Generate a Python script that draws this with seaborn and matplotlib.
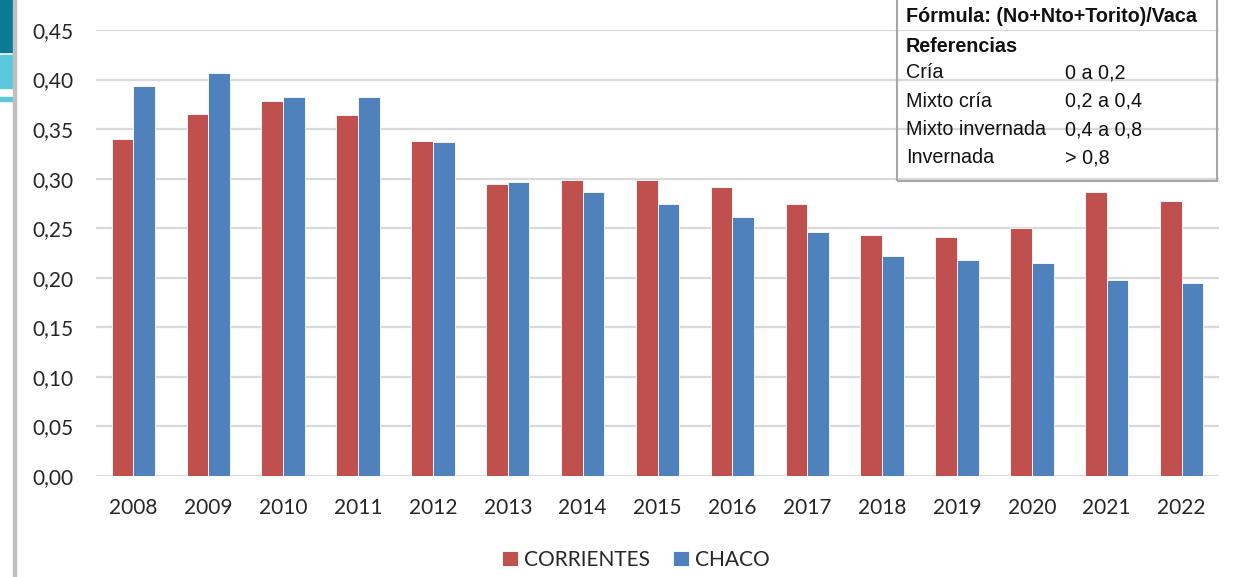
import matplotlib
matplotlib.use("Agg")
import matplotlib.pyplot as plt
from matplotlib.patches import Rectangle
import seaborn as sns
import pandas as pd

# Ratio (No + Nto + Torito) / Vaca per year and province
years = ["2008", "2009", "2010", "2011", "2012", "2013", "2014", "2015",
         "2016", "2017", "2018", "2019", "2020", "2021", "2022"]
corrientes = [0.340, 0.365, 0.378, 0.364, 0.338, 0.295, 0.299, 0.299,
              0.292, 0.274, 0.243, 0.241, 0.250, 0.287, 0.277]
chaco = [0.394, 0.407, 0.382, 0.382, 0.337, 0.297, 0.287, 0.274,
         0.261, 0.246, 0.222, 0.218, 0.215, 0.198, 0.195]
series_names = ["CORRIENTES", "CHACO"]

y_ticks = [0.00, 0.05, 0.10, 0.15, 0.20, 0.25, 0.30, 0.35, 0.40, 0.45]

formula_title = "Fórmula: (No+Nto+Torito)/Vaca"
ref_title = "Referencias"
ref_labels = ["Cría", "Mixto cría", "Mixto invernada", "Invernada"]
ref_ranges = ["0 a 0,2", "0,2 a 0,4", "0,4 a 0,8", "> 0,8"]

df = pd.DataFrame({
    "Año": years * 2,
    "Valor": corrientes + chaco,
    "Provincia": [series_names[0]] * len(years) + [series_names[1]] * len(years),
})

sns.set_theme(style="white")
plt.rcParams["font.family"] = ["Lato", "DejaVu Sans"]

W, H = 1243, 577
fig = plt.figure(figsize=(W / 100, H / 100), dpi=100)
ax = fig.add_axes([96 / W, 1 - 476 / H, (1219 - 96) / W, (476 - 30) / H])

palette = {series_names[0]: "#C0504D", series_names[1]: "#4F81BD"}
sns.barplot(data=df, x="Año", y="Valor", hue="Provincia", palette=palette,
            width=0.58, edgecolor="#ffffff", linewidth=0.6, saturation=1,
            ax=ax, zorder=3)

ax.set_ylim(0, 0.45)
ax.set_xlim(-0.5, len(years) - 0.5)
ax.set_yticks(y_ticks)
ax.set_yticklabels([f"{v:.2f}".replace(".", ",") for v in y_ticks])
ax.yaxis.grid(True, color="#D9D9D9", linewidth=1.6, zorder=0)
ax.set_axisbelow(True)
for s in ax.spines.values():
    s.set_visible(False)
ax.set_xlabel("")
ax.set_ylabel("")
ax.tick_params(axis="y", length=0, pad=16, labelsize=15, labelcolor="#262626")
ax.tick_params(axis="x", length=0, pad=16, labelsize=15, labelcolor="#262626")

ax.legend(loc="center", bbox_to_anchor=(636 / W, 1 - 560 / H),
          bbox_transform=fig.transFigure, ncol=2, frameon=False,
          fontsize=15, handlelength=0.75, handleheight=0.75,
          handletextpad=0.3, columnspacing=1.1, labelcolor="#262626")

# Slide decoration on the left edge
fig.patches.append(Rectangle((0, 1 - 52 / H), 13 / W, 52 / H,
                             transform=fig.transFigure, color="#0B7A94", zorder=0))
fig.patches.append(Rectangle((0, 1 - 88 / H), 13 / W, 33 / H,
                             transform=fig.transFigure, color="#5BC8DC", zorder=0))
fig.patches.append(Rectangle((0, 1 - 101 / H), 13 / W, 4 / H,
                             transform=fig.transFigure, color="#5BC8DC", zorder=0))
fig.patches.append(Rectangle((13 / W, 0), 3 / W, 1,
                             transform=fig.transFigure, color="#BFBFBF", zorder=0))

# Reference box in the upper right
bx0, bx1, by0, by1 = 897, 1217, -4, 181
fig.patches.append(Rectangle((bx0 / W, 1 - by1 / H), (bx1 - bx0) / W, (by1 - by0) / H,
                             transform=fig.transFigure, fill=False,
                             edgecolor="#A6A6A6", linewidth=1.5, zorder=5))
box_font = ["Liberation Sans", "DejaVu Sans"]
box_size = 14.2
fig.text(906 / W, 1 - 17 / H, formula_title, fontsize=box_size, fontweight="bold",
         family=box_font, va="center", ha="left", color="#111111")
fig.text(906 / W, 1 - 46 / H, ref_title, fontsize=box_size, fontweight="bold",
         family=box_font, va="center", ha="left", color="#111111")
for i, (lab, rng) in enumerate(zip(ref_labels, ref_ranges)):
    yy = 1 - (73 + i * 28.3) / H
    fig.text(906 / W, yy, lab, fontsize=box_size, family=box_font,
             va="center", ha="left", color="#111111")
    fig.text(1065 / W, yy, rng, fontsize=box_size, family=box_font,
             va="center", ha="left", color="#111111")

fig.savefig("out.png", dpi=100, facecolor="white")
